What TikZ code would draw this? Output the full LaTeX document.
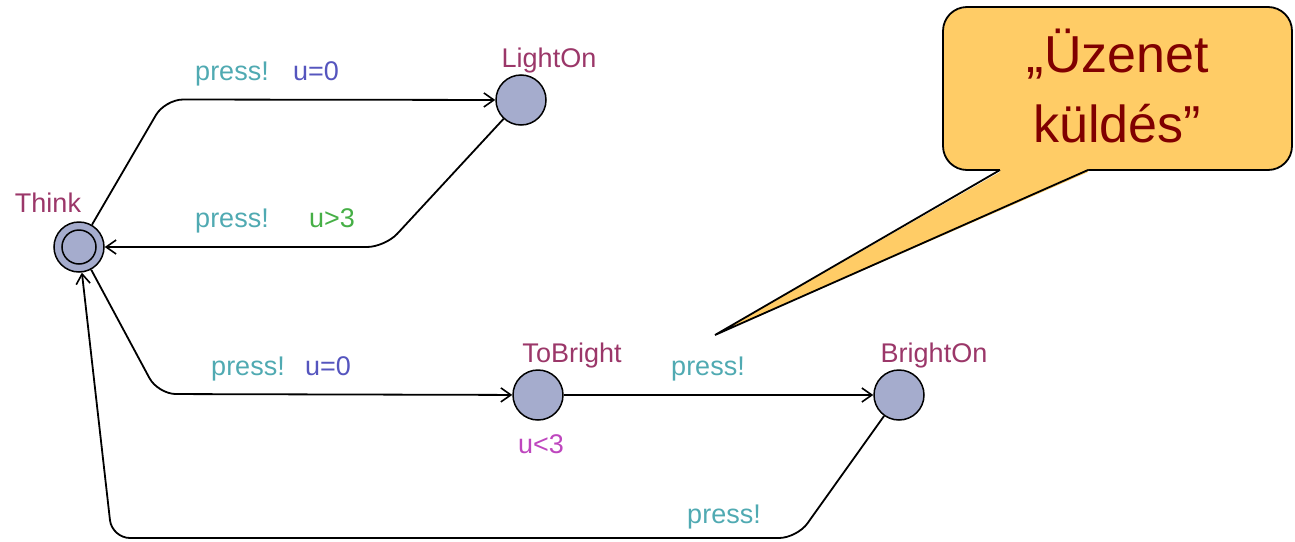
\documentclass[tikz,border=0pt]{standalone}
\usepackage{fontspec}
\setmainfont{Liberation Sans}
\usetikzlibrary{arrows.meta}
\definecolor{statecol}{RGB}{155,55,105}
\definecolor{synccol}{RGB}{80,170,178}
\definecolor{updcol}{RGB}{85,85,190}
\definecolor{guardcol}{RGB}{70,175,70}
\definecolor{invcol}{RGB}{190,70,190}
\definecolor{nodefill}{RGB}{165,172,205}
\definecolor{callfill}{RGB}{255,204,102}
\definecolor{calltext}{RGB}{128,0,0}
\tikzset{
  loc/.style={circle,draw=black,line width=1.5pt,fill=nodefill,minimum size=50pt,inner sep=0pt},
  lbl/.style={anchor=base,inner sep=0pt,font=\fontsize{27}{30}\selectfont},
  sname/.style={lbl,text=statecol},
  sync/.style={lbl,text=synccol},
  upd/.style={lbl,text=updcol},
  grd/.style={lbl,text=guardcol},
  inv/.style={lbl,text=invcol},
  edge/.style={draw=black,line width=1.8pt,rounded corners=18pt,-{Straight Barb[length=10pt,width=14pt,line width=1.6pt]}},
  calltxt/.style={anchor=base,inner sep=0pt,text=calltext,font=\fontsize{52}{60}\selectfont}
}
\begin{document}
\begin{tikzpicture}[x=1pt,y=-1pt]
\useasboundingbox (0,0) rectangle (1295,541);
% locations
\node[loc] (think) at (79,247) {};
\draw[line width=1.5pt] (think.center) circle (17);
\node[loc] (lighton) at (521,100) {};
\node[loc] (tobright) at (538,395) {};
\node[loc] (brighton) at (899,395) {};
% location names
\node[sname] (nthink) at (48,212) {Think};
\node[sname] (nlighton) at (549,67) {LightOn};
\node[sname] (ntobright) at (572,362) {ToBright};
\node[sname] (nbrighton) at (934,362) {BrightOn};
\node[inv] (itobright) at (541,453) {u<3};
% edges
\draw[edge] (think) -- (165,99.5) -- (lighton);
\draw[edge] (lighton) -- (385,247) -- (think);
\draw[edge] (think) -- (158,394) -- (tobright);
\draw[edge] (tobright) -- (brighton);
\draw[edge] (brighton) -- (797,538) -- (112,538) -- (think);
% edge labels
\node[sync] (s1) at (232,80) {press!};
\node[upd] (u1) at (316,80) {u=0};
\node[sync] (s2) at (232,227) {press!};
\node[grd] (g2) at (332,227) {u>3};
\node[sync] (s3) at (248,375) {press!};
\node[upd] (u3) at (328,375) {u=0};
\node[sync] (s4) at (708,375) {press!};
\node[sync] (s5) at (724,523) {press!};
% callout
\coordinate (tip) at (715,335);
\node[draw=black,line width=1.8pt,fill=callfill,rounded corners=24pt,minimum width=349pt,minimum height=163pt,inner sep=0pt] (callout) at (1117.5,88.5) {};
\fill[callfill] (1000,172) -- (tip) -- (1088,172) -- (1088,167) -- (1000,167) -- cycle;
\draw[line width=1.8pt,line join=miter] (1000,170) -- (tip) -- (1088,170);
\node[calltxt] (msg1) at (1118,72) {„Üzenet};
\node[calltxt] (msg2) at (1117,142) {küldés”};
\end{tikzpicture}
\end{document}
